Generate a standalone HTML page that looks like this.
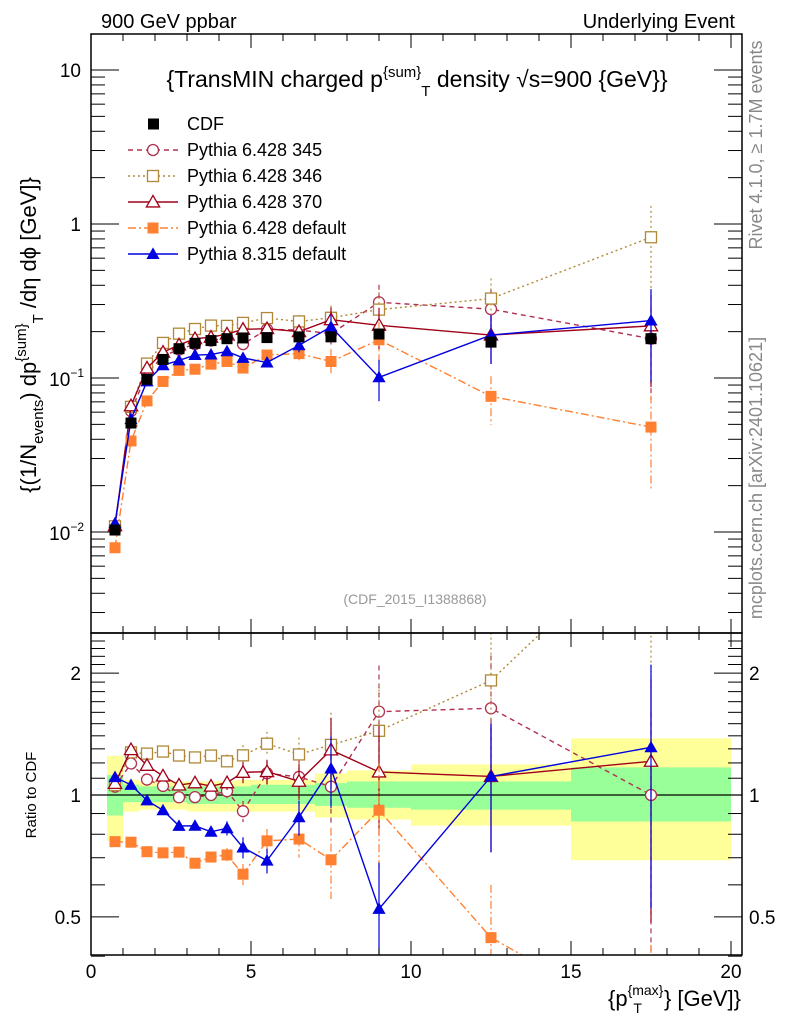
<!DOCTYPE html>
<html><head><meta charset="utf-8">
<style>
html,body{margin:0;background:#fff;overflow:hidden;width:786px;height:1024px;}
svg{display:block;font-family:"Liberation Sans",sans-serif;}
</style></head>
<body>
<svg id="c" width="786" height="1024" viewBox="0 0 786 1024" xmlns="http://www.w3.org/2000/svg">
<text x="101" y="28" font-size="20">900 GeV ppbar</text>
<text x="735" y="28" font-size="20" text-anchor="end">Underlying Event</text>
<text x="417" y="87" font-size="23" text-anchor="middle">{TransMIN charged p<tspan dy="-10" font-size="15">{sum}</tspan><tspan dy="19" font-size="15">T</tspan><tspan dy="-9"> density √s=900 {GeV}}</tspan></text>
<text x="415" y="604" font-size="14" fill="#999" text-anchor="middle">(CDF_2015_I1388868)</text>
<text transform="translate(762,145) rotate(-90)" font-size="18" fill="#888" text-anchor="middle">Rivet 4.1.0, ≥ 1.7M events</text>
<text transform="translate(762,478) rotate(-90)" font-size="18" fill="#888" text-anchor="middle">mcplots.cern.ch [arXiv:2401.10621]</text>
<text transform="translate(36,335) rotate(-90)" font-size="22" text-anchor="middle">{(1/N<tspan dy="7" font-size="15">events</tspan><tspan dy="-7">) dp</tspan><tspan dy="-10" font-size="15">{sum}</tspan><tspan dy="17" font-size="15">T</tspan><tspan dy="-7"> /dη  dϕ [GeV]}</tspan></text>
<text transform="translate(36,795) rotate(-90)" font-size="15" text-anchor="middle">Ratio to CDF</text>
<text x="741" y="1006" font-size="22" text-anchor="end">{p<tspan dy="-11" font-size="14">{max}</tspan><tspan dy="18" font-size="14" dx="-30">T</tspan><tspan dy="-7" dx="22">} [GeV]}</tspan></text>
<g id="g"></g>
</svg>
<script>
const xs = [0.75,1.25,1.75,2.25,2.75,3.25,3.75,4.25,4.75,5.5,6.5,7.5,9,12.5,17.5];
const cdf = [0.0103,0.051,0.098,0.132,0.155,0.168,0.175,0.18,0.182,0.183,0.185,0.185,0.193,0.171,0.18];
const p345 = [0.0108,0.061,0.107,0.139,0.153,0.166,0.175,0.184,0.166,0.207,0.205,0.194,0.31,0.28,0.18];
const p346 = [0.0109,0.065,0.124,0.169,0.194,0.208,0.219,0.218,0.228,0.245,0.233,0.246,0.278,0.328,0.82];
const p370 = [0.011,0.066,0.116,0.147,0.164,0.180,0.184,0.193,0.207,0.209,0.200,0.239,0.22,0.19,0.218];
const pdef = [0.0079,0.039,0.071,0.095,0.112,0.114,0.123,0.128,0.116,0.141,0.144,0.128,0.177,0.076,0.048];
const p8 = [0.0114,0.054,0.095,0.121,0.130,0.141,0.142,0.149,0.135,0.126,0.163,0.215,0.101,0.19,0.236];
const errFrac = [0.01,0.01,0.01,0.01,0.01,0.02,0.03,0.04,0.06,0.07,0.1,0.2,0.3,0.35,0.6];
const binEdges = [0.5,1,1.5,2,2.5,3,3.5,4,4.5,5,6,7,8,10,15,20];
const yelUp = [1.25,1.09,1.08,1.08,1.08,1.08,1.08,1.08,1.09,1.09,1.09,1.13,1.15,1.19,1.38];
const yelDn = [0.77,0.91,0.92,0.92,0.92,0.91,0.91,0.91,0.91,0.91,0.91,0.88,0.87,0.84,0.69];
const grnUp = [1.12,1.06,1.05,1.05,1.05,1.05,1.05,1.05,1.05,1.06,1.06,1.07,1.08,1.08,1.17];
const grnDn = [0.89,0.96,0.96,0.96,0.96,0.95,0.95,0.95,0.95,0.95,0.95,0.94,0.93,0.92,0.86];
const xTicks = [0,5,10,15,20];

const L=91,R=742,T=34,M=633,B=955;
const X=v=>91+32*v;
const Y=v=>224-154*Math.log10(v);
const RY=v=>795-405*Math.log10(v);
const NS='http://www.w3.org/2000/svg';
const g=document.getElementById('g');
function el(tag,at,parent){const e=document.createElementNS(NS,tag);for(const k in at)e.setAttribute(k,at[k]);(parent||g).appendChild(e);return e;}

const bands=el('g',{});


for(let i=0;i<binEdges.length-1;i++){
  const x0=X(binEdges[i]),x1=X(binEdges[i+1]);
  const r1=el('rect',{x:x0,y:RY(yelUp[i]),width:x1-x0,height:RY(yelDn[i])-RY(yelUp[i]),fill:'#ffff99'},bands);
  
  
  const r2=el('rect',{x:x0,y:RY(grnUp[i]),width:x1-x0,height:RY(grnDn[i])-RY(grnUp[i]),fill:'#99ff99'},bands);
  
  
}
el('line',{x1:L,x2:R,y1:RY(1),y2:RY(1),stroke:'#000','stroke-width':1.2});

const defs=el('defs',{});
const c1=el('clipPath',{id:'cm'},defs);el('rect',{x:L,y:T,width:R-L,height:M-T},c1);
const c2=el('clipPath',{id:'cr'},defs);el('rect',{x:L,y:M,width:R-L,height:B-M},c2);

const series=[
 {name:'pythia-6428-345',vals:p345,col:'#b03050',dash:'5,4',mk:'circle-open'},
 {name:'pythia-6428-346',vals:p346,col:'#b08838',dash:'2,3',mk:'square-open'},
 {name:'pythia-6428-370',vals:p370,col:'#a00018',dash:'',mk:'tri-open'},
 {name:'pythia-6428-default',vals:pdef,col:'#ff8030',dash:'8,3,2,3',mk:'square'},
 {name:'pythia-8315-default',vals:p8,col:'#0000e0',dash:'',mk:'tri'}
];
function marker(par,type,x,y,col,s){
  let e;
  if(type==='circle-open')e=el('circle',{cx:x,cy:y,r:s*0.5,fill:'#fff',stroke:col,'stroke-width':1.3},par);
  else if(type==='square-open')e=el('rect',{x:x-s/2,y:y-s/2,width:s,height:s,fill:'#fff',stroke:col,'stroke-width':1.3},par);
  else if(type==='square')e=el('rect',{x:x-s/2,y:y-s/2,width:s,height:s,fill:col},par);
  else if(type==='tri-open')e=el('path',{d:`M${x},${y-s*0.6}L${x+s*0.6},${y+s*0.45}L${x-s*0.6},${y+s*0.45}Z`,fill:'#fff',stroke:col,'stroke-width':1.3},par);
  else e=el('path',{d:`M${x},${y-s*0.6}L${x+s*0.6},${y+s*0.45}L${x-s*0.6},${y+s*0.45}Z`,fill:col},par);
  return e;
}
function drawPanel(clip,yf,ratio){
  const pg=el('g',{'clip-path':`url(#${clip})`});
  
  
  series.forEach(s=>{
    const sg=el('g',{},pg);
    
    
    const v=s.vals.map((d,i)=>ratio?d/cdf[i]:d);
    const pts=v.map((d,i)=>X(xs[i])+','+yf(d)).join(' ');
    el('polyline',{points:pts,fill:'none',stroke:s.col,'stroke-width':1.4,'stroke-dasharray':s.dash},sg);
    v.forEach((d,i)=>{
      const e=errFrac[i];
      if(e>0.03){
        const ln=el('line',{x1:X(xs[i]),x2:X(xs[i]),y1:yf(d*(1+e)),y2:yf(Math.max(d*(1-e),1e-4)),stroke:s.col,'stroke-width':1.2,'stroke-dasharray':s.dash},sg);
        
        
      }
      const m=marker(sg,s.mk,X(xs[i]),yf(d),s.col,11);
      
      
    });
  });
  if(!ratio){
    const cg=el('g',{},pg);
    
    
    cdf.forEach((d,i)=>{
      const m=el('rect',{x:X(xs[i])-5.5,y:Y(d)-5.5,width:11,height:11,fill:'#000'},cg);
      
      
    });
  }
}
drawPanel('cm',Y,false);
drawPanel('cr',RY,true);

const fr=el('g',{fill:'none',stroke:'#000','stroke-width':1.5});


el('rect',{x:L,y:T,width:R-L,height:M-T},fr);
el('rect',{x:L,y:M,width:R-L,height:B-M},fr);

const tk=el('g',{stroke:'#000','stroke-width':1});
for(let v=0;v<=20;v+=1){
  const major=v%5===0, len=major?14:7, x=X(v);
  [[T,1],[M,-1],[M,1],[B,-1]].forEach(([y,d])=>el('line',{x1:x,x2:x,y1:y,y2:y+d*len},tk));
}
xTicks.forEach(v=>{
  const t=el('text',{x:X(v),y:978,'font-size':19,'text-anchor':'middle'});
  t.textContent=v;
  
  
});
for(let dec=-3;dec<=1;dec++){
  for(let k=1;k<10;k++){
    const v=k*Math.pow(10,dec), y=Y(v);
    if(y<T||y>M)continue;
    const len=k===1?28:14;
    el('line',{x1:L,x2:L+len,y1:y,y2:y},tk);
    el('line',{x1:R,x2:R-len,y1:y,y2:y},tk);
  }
}
[['10',10],['1',1]].forEach(([s,v])=>{const t=el('text',{x:81,y:Y(v)+7,'font-size':19,'text-anchor':'end'});t.textContent=s;});
[[-1,0.1],[-2,0.01]].forEach(([p,v])=>{const t=el('text',{x:84,y:Y(v)+8,'font-size':19,'text-anchor':'end'});t.innerHTML='10<tspan dy="-9" font-size="12">−'+(-p)+'</tspan>';});
for(let v=0.4;v<=2.5;v+=0.1){
  const vv=Math.round(v*10)/10,y=RY(vv);
  const major=(vv===0.5||vv===1||vv===2);
  const len=major?28:14;
  el('line',{x1:L,x2:L+len,y1:y,y2:y},tk);
  el('line',{x1:R,x2:R-len,y1:y,y2:y},tk);
}
[['2',2],['1',1],['0.5',0.5]].forEach(([s,v])=>{
  const t=el('text',{x:81,y:RY(v)+7,'font-size':19,'text-anchor':'end'});t.textContent=s;
  const t2=el('text',{x:749,y:RY(v)+7,'font-size':19});t2.textContent=s;
});

const lg=el('g',{});


const lnames=['CDF','Pythia 6.428 345','Pythia 6.428 346','Pythia 6.428 370','Pythia 6.428 default','Pythia 8.315 default'];
lnames.forEach((n,i)=>{
  const y=124+26*i;
  const eg=el('g',{},lg);
  
  
  if(i===0) el('rect',{x:148,y:y-5.5,width:11,height:11,fill:'#000'},eg);
  else{
    const s=series[i-1];
    el('line',{x1:128,x2:178,y1:y,y2:y,stroke:s.col,'stroke-width':1.4,'stroke-dasharray':s.dash},eg);
    marker(eg,s.mk,153,y,s.col,11);
  }
  const t=el('text',{x:187,y:y+6,'font-size':18},eg);t.textContent=n;
});
</script>
</body></html>
